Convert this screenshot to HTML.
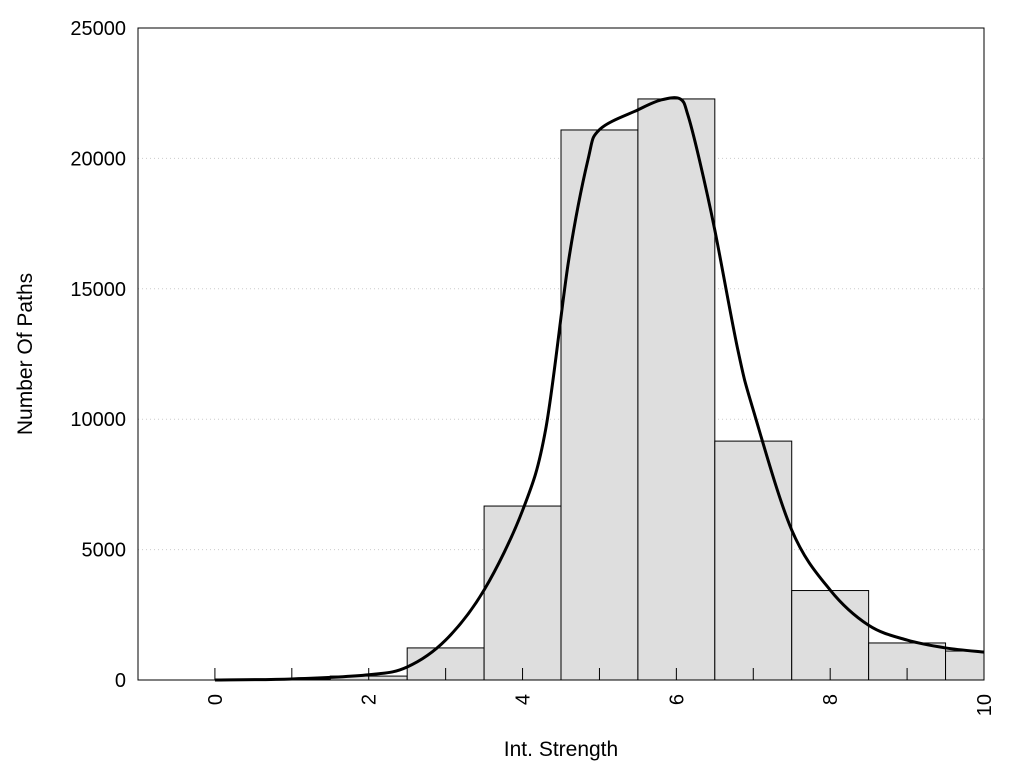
<!DOCTYPE html>
<html><head><meta charset="utf-8"><style>
body{margin:0;background:#fff;}
svg text{font-family:"Liberation Sans",Arial,sans-serif;fill:#000;}
</style></head><body>
<svg id="chart" width="1024" height="768" xmlns="http://www.w3.org/2000/svg">
<g id="grid"></g>
<g id="bars"></g>
<g id="ticks"></g>
<path id="curve" fill="none" stroke="#000" stroke-width="3"/>
<rect x="138" y="28" width="846" height="652" fill="none" stroke="#000" stroke-width="1"/>
<text x="561" y="756" text-anchor="middle" font-size="21">Int. Strength</text>
<text transform="translate(32,354) rotate(-90)" text-anchor="middle" font-size="21">Number Of Paths</text>
</svg>
<script>
const categories=[0,1,2,3,4,5,6,7,8,9,10];
const counts=[0,20,150,1230,6670,21090,22280,9160,3430,1420,1110];
const curveX=[0,1,2,2.5,3,3.5,4,4.3,4.6,4.85,5,5.5,5.8,6.05,6.15,6.3,6.5,6.8,7,7.5,8,8.5,9,9.5,10];
const curveY=[0,40,200,500,1530,3450,6500,9600,16100,19940,21100,21860,22240,22280,21660,19940,17250,12650,10350,5750,3450,2100,1530,1230,1070];
const yTicks=[0,5000,10000,15000,20000,25000];
const xTicks=[0,2,4,6,8,10];
const X0=138,X1=984,Y0=680,Y1=28,xmin=-1,xmax=10,ymax=25000;
const sx=v=>X0+(v-xmin)/(xmax-xmin)*(X1-X0);
const sy=v=>Y0-v/ymax*(Y0-Y1);
const NS="http://www.w3.org/2000/svg";
function mk(t,p,parent){const e=document.createElementNS(NS,t);for(const k in p)e.setAttribute(k,p[k]);parent.appendChild(e);return e;}
const grid=document.getElementById('grid'),bars=document.getElementById('bars'),ticks=document.getElementById('ticks'),svg=document.getElementById('chart');
yTicks.forEach(v=>{
 if(v>0&&v<ymax){const l=mk('line',{x1:X0,x2:X1,y1:sy(v),y2:sy(v),stroke:'#ccc','stroke-dasharray':'1,3'},grid);
 
 }
 const t=mk('text',{x:126,y:sy(v)+7,'text-anchor':'end','font-size':'20'},svg);t.textContent=v;
 
 
});
categories.forEach((c,i)=>{
 const tk=mk('line',{x1:sx(c),x2:sx(c),y1:Y0,y2:Y0-12,stroke:'#000'},ticks);
 
 
 const l=Math.max(sx(c-0.5),X0),r=Math.min(sx(c+0.5),X1);
 const b=mk('rect',{x:l,y:sy(counts[i]),width:r-l,height:Y0-sy(counts[i]),fill:'#dedede',stroke:'#000','stroke-width':1},bars);
 
 
});
xTicks.forEach(v=>{
 const t=mk('text',{transform:`translate(${sx(v)+7},${694}) rotate(-90)`,'text-anchor':'end','font-size':'20'},svg);t.textContent=v;
 
 
});
const P=curveX.map((x,i)=>[sx(x),sy(curveY[i])]);
let d=`M${P[0][0]},${P[0][1]}`;
for(let i=0;i<P.length-1;i++){const p0=P[Math.max(i-1,0)],p1=P[i],p2=P[i+1],p3=P[Math.min(i+2,P.length-1)];
 d+=` C${p1[0]+(p2[0]-p0[0])/6},${p1[1]+(p2[1]-p0[1])/6} ${p2[0]-(p3[0]-p1[0])/6},${p2[1]-(p3[1]-p1[1])/6} ${p2[0]},${p2[1]}`;}
document.getElementById('curve').setAttribute('d',d);
</script>
</body></html>
